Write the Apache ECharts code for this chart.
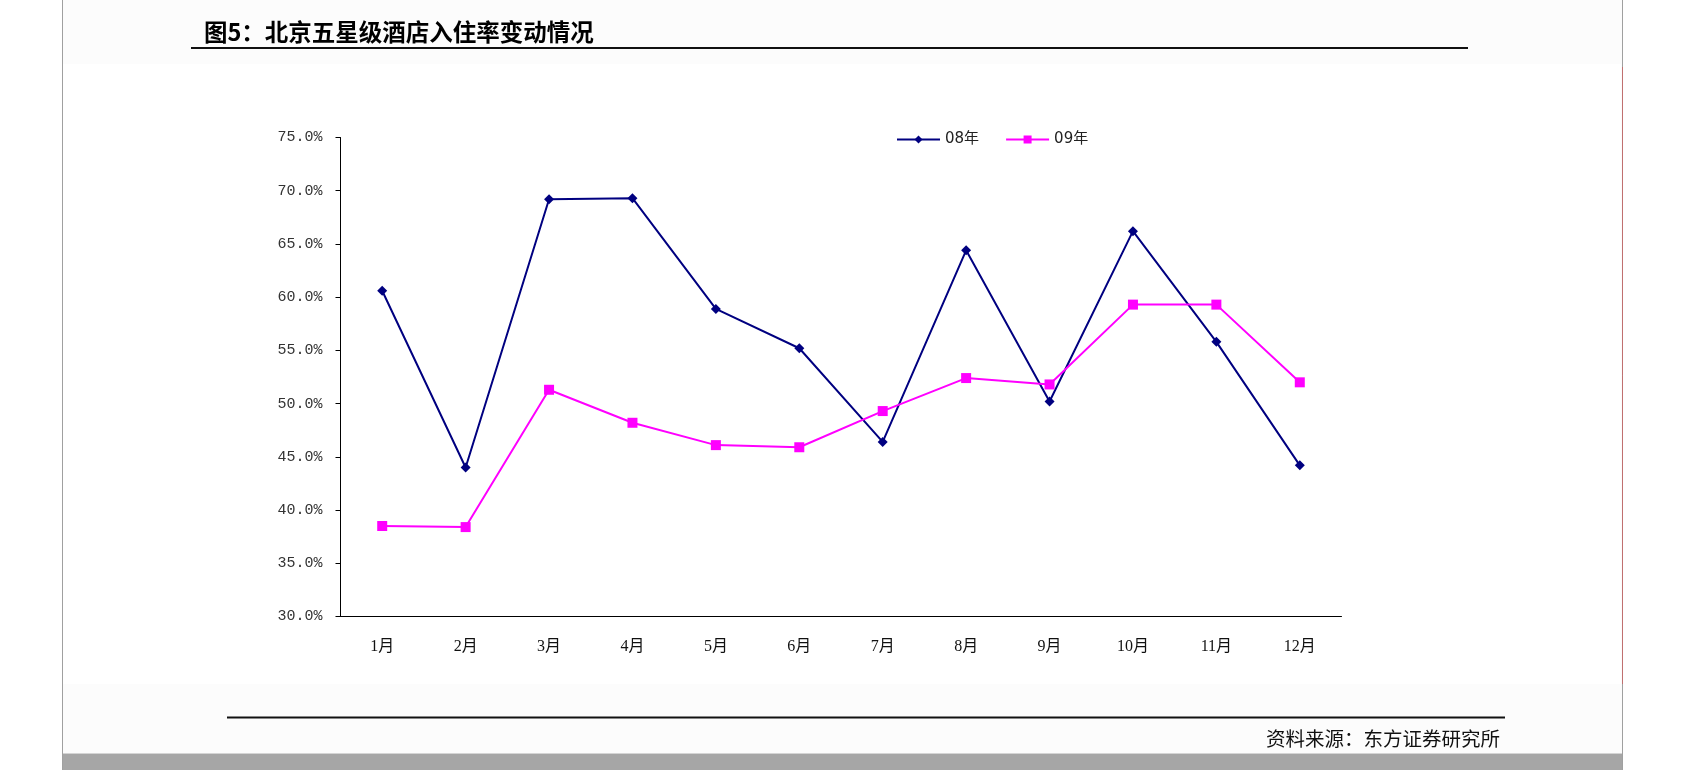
<!DOCTYPE html>
<html>
<head>
<meta charset="utf-8">
<script src="https://cdn.jsdelivr.net/npm/echarts@6/dist/echarts.min.js"></script>
<style>
html,body{margin:0;padding:0;background:#fff;}
#chart{width:1684px;height:770px;}
</style>
</head>
<body>
<div id="chart"></div>
<script>
const categories = ['1月','2月','3月','4月','5月','6月','7月','8月','9月','10月','11月','12月'];
const series08 = [60.6, 44.0, 69.2, 69.3, 58.9, 55.2, 46.4, 64.4, 50.2, 66.2, 55.8, 44.2];
const series09 = [38.5, 38.4, 51.3, 48.2, 46.1, 45.9, 49.3, 52.4, 51.8, 59.3, 59.3, 52.0];
const seriesNames = ['08年', '09年'];
const titleText = '图5：北京五星级酒店入住率变动情况';
const sourceText = '资料来源：东方证券研究所';

const chart = echarts.init(document.getElementById('chart'));
chart.setOption({
  backgroundColor: '#ffffff',
  animation: false,
  graphic: [
    {type:'rect', z:-10, silent:true, shape:{x:62, y:0, width:1560, height:753}, style:{fill:'#fcfcfc'}},
    {type:'rect', z:-9, silent:true, shape:{x:63, y:64, width:1558, height:620}, style:{fill:'#ffffff'}},
    {type:'rect', z:-9, silent:true, shape:{x:62, y:753, width:1560, height:17}, style:{fill:'#a6a6a6'}},
    {type:'line', z:-8, silent:true, shape:{x1:62, y1:753.5, x2:1622, y2:753.5}, style:{stroke:'#d4d4d4', lineWidth:1}},
    {type:'line', z:-8, silent:true, shape:{x1:62.5, y1:0, x2:62.5, y2:770}, style:{stroke:'#a0a0a0', lineWidth:1}},
    {type:'line', z:-8, silent:true, shape:{x1:1622.5, y1:0, x2:1622.5, y2:770}, style:{stroke:'#a0a0a0', lineWidth:1}},
    {type:'line', z:-7, silent:true, shape:{x1:1622.5, y1:67, x2:1622.5, y2:684}, style:{stroke:'#c07070', lineWidth:1}},
    {type:'text', silent:true, left:204, top:20, style:{text:titleText, font:'bold 23.5px "Noto Sans CJK SC"', fill:'#000'}},
    {type:'line', silent:true, shape:{x1:191, y1:48, x2:1468, y2:48}, style:{stroke:'#111', lineWidth:2}},
    {type:'line', silent:true, shape:{x1:227, y1:717.5, x2:1505, y2:717.5}, style:{stroke:'#111', lineWidth:2}},
    {type:'text', silent:true, right:184, top:729, style:{text:sourceText, font:'19.5px "Noto Sans CJK SC"', fill:'#111', textAlign:'right'}}
  ],
  legend: {
    left: 891, top: 127,
    itemWidth: 43, itemHeight: 10, itemGap: 26,
    textStyle: {fontSize: 15, color: '#222', fontFamily: '"DejaVu Sans", "Noto Sans CJK SC"'},
    data: seriesNames
  },
  grid: {left: 340.5, top: 137.5, right: 342.5, bottom: 153.5, containLabel: false},
  xAxis: {
    type: 'category',
    data: categories,
    boundaryGap: true,
    axisLine: {lineStyle: {color: '#000', width: 1}},
    axisTick: {inside: true, length: 5, alignWithLabel: false, lineStyle:{color:'#000'}},
    axisLabel: {margin: 22, fontSize: 16, color: '#111', fontFamily: '"Liberation Serif", "Noto Sans CJK SC"'},
    splitLine: {show: false}
  },
  yAxis: {
    type: 'value',
    min: 30, max: 75, interval: 5,
    axisLine: {show: true, lineStyle: {color: '#000', width: 1}},
    axisTick: {show: true, inside: false, length: 5, lineStyle:{color:'#000'}},
    axisLabel: {margin: 18, fontSize: 15, color: '#333', fontFamily: '"Liberation Mono", monospace', formatter: v => v.toFixed(1) + '%'},
    splitLine: {show: false}
  },
  series: [
    {
      name: seriesNames[0], type: 'line', data: series08,
      symbol: 'diamond', symbolSize: 10, showAllSymbol: true,
      lineStyle: {color: '#000080', width: 2},
      itemStyle: {color: '#000080'}
    },
    {
      name: seriesNames[1], type: 'line', data: series09,
      symbol: 'rect', symbolSize: 10, showAllSymbol: true,
      lineStyle: {color: '#ff00ff', width: 2},
      itemStyle: {color: '#ff00ff'}
    }
  ]
});
</script>
</body>
</html>
